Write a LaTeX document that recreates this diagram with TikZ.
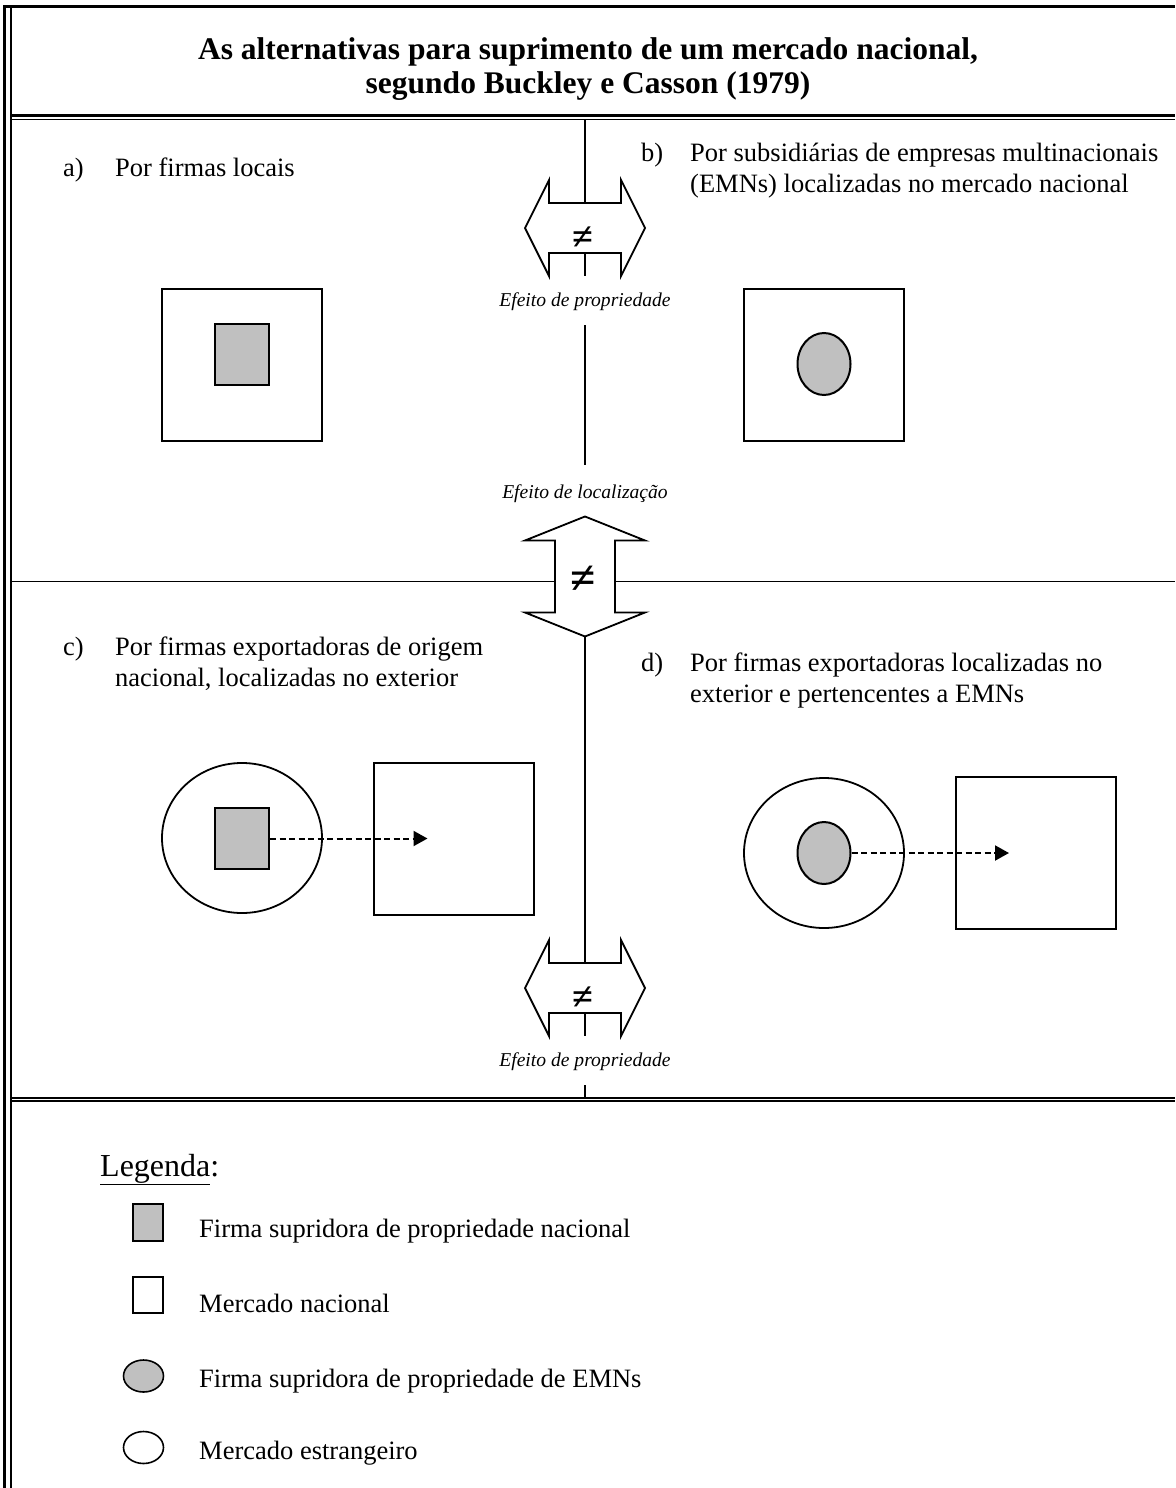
\documentclass[tikz,border=0pt]{standalone}
\usepackage{fontspec}
\setmainfont{Liberation Serif}
\usepackage{xcolor}
\definecolor{cLine}{HTML}{000000}
\definecolor{cFirm}{HTML}{C0C0C0}
\usepackage{tikz}
\usetikzlibrary{positioning,arrows.meta,shapes.geometric}
\tikzset{
  rule-thick/.style={line width=2.6pt,draw=cLine},
  rule-thin/.style={line width=1.5pt,draw=cLine},
  rule-axis/.style={line width=1.8pt,draw=cLine},
  node-market/.style={draw=cLine,line width=2pt,minimum width=160pt,minimum height=152pt,inner sep=0pt},
  node-foreign/.style={draw=cLine,line width=1.8pt,ellipse,minimum width=160pt,minimum height=150pt,inner sep=0pt},
  node-firm-nat/.style={draw=cLine,line width=2pt,fill=cFirm,minimum width=54pt,minimum height=61pt,inner sep=0pt},
  node-firm-emn/.style={draw=cLine,line width=2pt,fill=cFirm,ellipse,minimum width=53pt,minimum height=62pt,inner sep=0pt},
  arrow-export/.style={-{Triangle[length=14pt,width=15pt]},line width=2pt,dash pattern=on 6pt off 3.5pt,draw=cLine},
  text-item/.style={font=\fontsize{26.5}{31}\selectfont,inner sep=0pt,anchor=base west,align=left},
  text-effect/.style={font=\fontsize{19.6}{22}\selectfont\itshape,inner sep=0pt,anchor=base},
  text-neq/.style={font=\fontsize{38}{40}\selectfont\bfseries,inner sep=0pt},
  % setas duplas: horizontal = efeito de propriedade, vertical = efeito de localizacao
  pics/twin-arrow-h/.style={code={
    \draw[rule-axis,line join=miter] (-60,0) -- (-36,-48) -- (-36,-25) -- (36,-25) -- (36,-48)
      -- (60,0) -- (36,48) -- (36,25) -- (-36,25) -- (-36,48) -- cycle;
    \coordinate (-north) at (0,-25);
    \coordinate (-south) at (0,25);
    \coordinate (-foot) at (0,48);
  }},
  pics/twin-arrow-v/.style={code={
    \draw[rule-axis,line join=miter] (0,-60) -- (60,-36) -- (30,-36) -- (30,36) -- (60,36)
      -- (0,60) -- (-60,36) -- (-30,36) -- (-30,-36) -- (-60,-36) -- cycle;
    \coordinate (-north) at (0,-60);
    \coordinate (-south) at (0,60);
    \coordinate (-west) at (-30,5);
    \coordinate (-east) at (30,5);
  }},
}

\begin{document}
\begin{tikzpicture}[x=1pt,y=-1pt]
  \useasboundingbox (0,0) rectangle (1175,1488);
  % moldura da tabela
  \draw[line width=3pt] (3,7) -- (1175,7);
  \draw[line width=2.4pt] (4.5,5.5) -- (4.5,1488);
  \draw[rule-thin] (11,7) -- (11,1488);
  \draw[rule-thick] (11,115.5) -- (1175,115.5);
  \draw[rule-thin] (11,119.7) -- (1175,119.7);
  \draw[rule-thick] (11,1097.8) -- (1175,1097.8);
  \draw[rule-thin] (11,1101) -- (1175,1101);

  \node[font=\fontsize{31.5}{34}\selectfont\bfseries,align=center,inner sep=0pt,anchor=base] (title) at (588,93)
    {As alternativas para suprimento de um mercado nacional,\\segundo Buckley e Casson (1979)};

  % setas e eixos
  \pic (own-top) at (585,228) {twin-arrow-h};
  \pic (loc) at (585,576.5) {twin-arrow-v};
  \pic (own-bot) at (585,988) {twin-arrow-h};
  \node[text-neq] (neq-top) at (583,238) {≠};
  \node[text-neq,font=\fontsize{46}{48}\selectfont\bfseries] (neq-loc) at (583,580) {≠};
  \node[text-neq] (neq-bot) at (583,998) {≠};
  \coordinate (axis-top) at (585,119);
  \coordinate (axis-a) at (585,325);
  \coordinate (axis-b) at (585,465);
  \coordinate (axis-c) at (585,1085);
  \coordinate (axis-end) at (585,1097);
  \coordinate (mid-w) at (11,581.5);
  \coordinate (mid-e) at (1175,581.5);
  \draw[rule-axis] (axis-top) -- (own-top-north);
  \draw[rule-axis] (own-top-south) -- (own-top-foot);
  \draw[rule-axis] (axis-a) -- (axis-b);
  \draw[rule-axis] (loc-south) -- (own-bot-north);
  \draw[rule-axis] (own-bot-south) -- (own-bot-foot);
  \draw[rule-axis] (axis-c) -- (axis-end);
  \draw[rule-axis] (mid-w) -- (loc-west);
  \draw[rule-axis] (loc-east) -- (mid-e);
  \node[text-effect] (eff-own-top) at (585,306) {Efeito de propriedade};
  \node[text-effect] (eff-loc) at (585,498) {Efeito de localização};
  \node[text-effect] (eff-own-bot) at (585,1066) {Efeito de propriedade};

  % quadrantes
  \node[text-item] (lab-a) at (63,176) {a)};
  \node[text-item] (txt-a) at (115,176) {Por firmas locais};
  \node[text-item] (lab-b) at (641,161) {b)};
  \node[text-item] (txt-b) at (690,192) {Por subsidiárias de empresas multinacionais\\(EMNs) localizadas no mercado nacional};
  \node[text-item] (lab-c) at (63,655) {c)};
  \node[text-item] (txt-c) at (115,686) {Por firmas exportadoras de origem\\nacional, localizadas no exterior};
  \node[text-item] (lab-d) at (641,671) {d)};
  \node[text-item] (txt-d) at (690,702) {Por firmas exportadoras localizadas no\\exterior e pertencentes a EMNs};

  \node[node-market] (mkt-a) at (242,365) {};
  \node[node-firm-nat] (firm-a) at (242,354) {};
  \node[node-market] (mkt-b) at (824,365) {};
  \node[node-firm-emn] (firm-b) at (824,364) {};
  \node[node-foreign] (frn-c) at (242,838) {};
  \node[node-firm-nat] (firm-c) at (242,838.5) {};
  \node[node-market] (mkt-c) at (453.5,838.5) {};
  \coordinate (dest-c) at ([xshift=-26pt]mkt-c.center);
  \draw[arrow-export] (firm-c.east) -- (dest-c);
  \node[node-foreign] (frn-d) at (824,853) {};
  \node[node-firm-emn] (firm-d) at (824,853) {};
  \node[node-market] (mkt-d) at (1036,853) {};
  \coordinate (dest-d) at ([xshift=-27pt]mkt-d.center);
  \draw[arrow-export] (firm-d.east) -- (dest-d);

  % legenda
  \node[text-item,font=\fontsize{32}{36}\selectfont] (leg-title) at (100,1176) {\underline{Legenda}:};
  \node[node-firm-nat,minimum width=30pt,minimum height=37pt,line width=1.6pt] (key-firm-nat) at (148,1222.5) {};
  \node[node-market,minimum width=30pt,minimum height=36pt,line width=1.6pt] (key-mkt) at (148,1295) {};
  \node[node-firm-emn,minimum width=40pt,minimum height=32pt,line width=1.6pt] (key-firm-emn) at (143.5,1376) {};
  \node[node-foreign,minimum width=40pt,minimum height=32pt,line width=1.6pt] (key-frn) at (143.5,1447.5) {};
  \node[text-item] (txt-firm-nat) at (199,1237) {Firma supridora de propriedade nacional};
  \node[text-item] (txt-mkt) at (199,1312) {Mercado nacional};
  \node[text-item] (txt-firm-emn) at (199,1387) {Firma supridora de propriedade de EMNs};
  \node[text-item] (txt-frn) at (199,1459) {Mercado estrangeiro};
\end{tikzpicture}
\end{document}
